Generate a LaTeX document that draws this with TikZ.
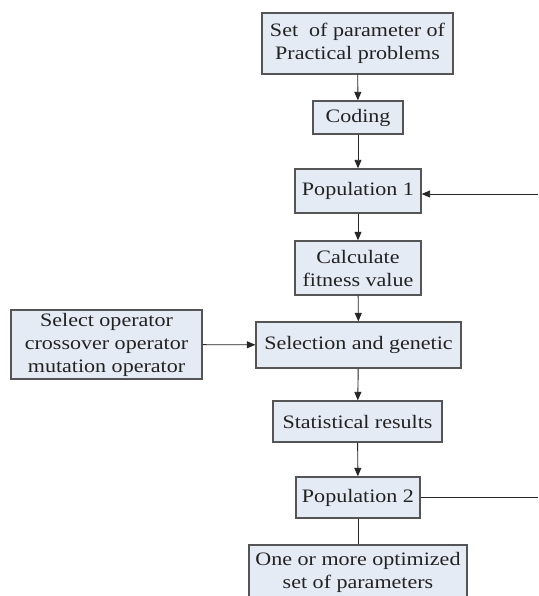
\documentclass[tikz,border=0pt]{standalone}
\usepackage{fontspec}
\setmainfont{Liberation Serif}[FakeStretch=1.16]
\usetikzlibrary{arrows.meta}
\definecolor{boxfill}{HTML}{E5EBF5}
\definecolor{boxline}{HTML}{555555}
\definecolor{txt}{HTML}{222222}
\begin{document}
\begin{tikzpicture}[x=1pt,y=-1pt,
  box/.style={draw=boxline, line width=1.3pt, fill=boxfill, inner sep=0pt,
    align=center, text=txt, font=\fontsize{19}{23}\selectfont},
  arr/.style={-{Triangle[length=8.5pt,width=7pt]}, line width=0.9pt, draw=black!85},
  ln/.style={line width=0.9pt, draw=black!85}]
\useasboundingbox[fill=white] (0,0) rectangle (538,596);
\node[box, minimum width=191pt, minimum height=61pt] (b1) at (357.5,43.5) {Set\ \ of parameter of\\Practical problems};
\node[box, minimum width=90pt, minimum height=33pt] (cod) at (358,117.5) {Coding};
\node[box, minimum width=126pt, minimum height=44pt] (pop1) at (358,191) {Population 1};
\node[box, minimum width=126pt, minimum height=54pt] (calc) at (358,268) {Calculate\\fitness value};
\node[box, minimum width=205pt, minimum height=46pt] (sel) at (358.5,345) {Selection and genetic};
\node[box, minimum width=191pt, minimum height=69pt] (op) at (106.5,344.5) {Select operator\\crossover operator\\mutation operator};
\node[box, minimum width=169pt, minimum height=41pt] (stat) at (357.5,421.5) {Statistical results};
\node[box, minimum width=124pt, minimum height=41pt] (pop2) at (358,497.5) {Population 2};
\node[box, minimum width=218pt, minimum height=55pt] (last) at (358,572.5) {One or more optimized\\set of parameters};
\coordinate (r1) at (538,194);
\coordinate (r2) at (538,497.5);
\draw[arr] (b1) -- (cod);
\draw[arr] (cod) -- (pop1);
\draw[arr] (pop1) -- (calc);
\draw[arr] (calc) -- (sel);
\draw[arr] (sel) -- (stat);
\draw[arr] (stat) -- (pop2);
\draw[ln] (pop2) -- (last);
\draw[arr] (op) -- (sel);
\draw[arr] (r1) -- (r1 -| pop1.east);
\draw[ln] (pop2) -- (r2);
\end{tikzpicture}
\end{document}
